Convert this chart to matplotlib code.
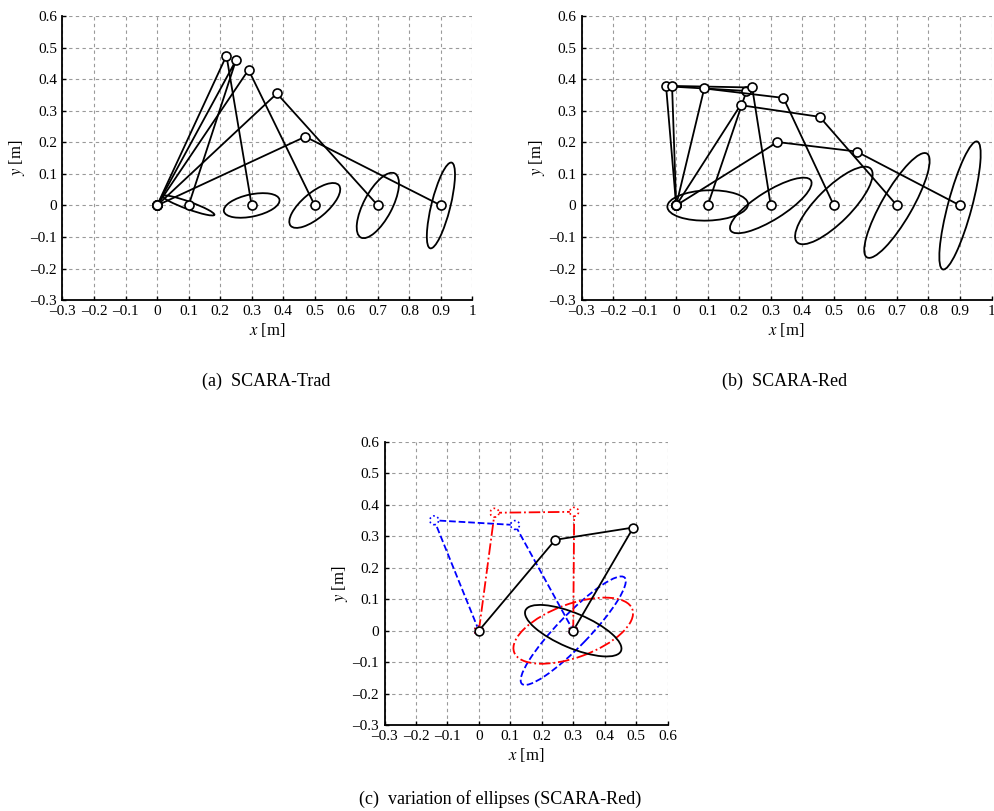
import numpy as np
import matplotlib
matplotlib.use('Agg')
import matplotlib.pyplot as plt
from matplotlib.patches import Ellipse

plt.rcParams['font.family'] = ['Liberation Serif', 'DejaVu Serif']
plt.rcParams['mathtext.fontset'] = 'stix'

# (a) SCARA-Trad: elbow and end-effector positions
trad_elbow_x = [0.25, 0.22, 0.29, 0.38, 0.47]
trad_elbow_y = [0.46, 0.475, 0.43, 0.355, 0.218]
trad_end_x = [0.1, 0.3, 0.5, 0.7, 0.9]
trad_end_y = [0.0, 0.0, 0.0, 0.0, 0.0]
# ellipse semi-axes (a, b) and angle in degrees
trad_ell_a = [0.087, 0.09, 0.10, 0.115, 0.14]
trad_ell_b = [0.012, 0.035, 0.04, 0.045, 0.03]
trad_ell_ang = [-20, 12, 40, 62, 76]

# (b) SCARA-Red: two intermediate joints per pose
red_j1_x = [-0.032, -0.013, 0.089, 0.204, 0.321]
red_j1_y = [0.378, 0.379, 0.371, 0.318, 0.201]
red_j2_x = [0.223, 0.241, 0.340, 0.455, 0.572]
red_j2_y = [0.363, 0.374, 0.341, 0.281, 0.171]
red_end_x = [0.1, 0.3, 0.5, 0.7, 0.9]
red_end_y = [0.0, 0.0, 0.0, 0.0, 0.0]
red_ell_a = [0.128, 0.15, 0.165, 0.19, 0.21]
red_ell_b = [0.048, 0.045, 0.055, 0.048, 0.038]
red_ell_ang = [2, 32, 45, 60, 75]

# (c) variation of ellipses: three poses reaching (0.3, 0)
var_j1_x = [0.243, 0.050, -0.142]
var_j1_y = [0.289, 0.375, 0.351]
var_j2_x = [0.491, 0.303, 0.115]
var_j2_y = [0.328, 0.378, 0.336]
var_end = (0.3, 0.0)
var_ell_a = [0.165, 0.20, 0.235]
var_ell_b = [0.055, 0.085, 0.05]
var_ell_ang = [-23, 20, 46]
var_colors = ['black', 'red', 'blue']
var_styles = ['-', '-.', '--']

ticks = np.round(np.arange(-0.3, 1.01, 0.1), 1)


def fmt(v):
    if abs(v) < 1e-9:
        return '0'
    if abs(v - 1) < 1e-9:
        return '1'
    return ('\u2013' if v < 0 else '') + f'{abs(v):.1f}'


def style_axes(ax, xmax):
    ax.set_xlim(-0.3, xmax)
    ax.set_ylim(-0.3, 0.6)
    ax.set_aspect('equal')
    xt = ticks[ticks <= xmax + 1e-9]
    yt = ticks[ticks <= 0.6 + 1e-9]
    ax.set_xticks(xt)
    ax.set_yticks(yt)
    ax.set_xticklabels([fmt(v) for v in xt], fontsize=11)
    ax.set_yticklabels([fmt(v) for v in yt], fontsize=11)
    ax.tick_params(direction='in', length=3, width=1, pad=4)
    ax.tick_params(axis='x', pad=3.5)
    ax.grid(True, ls=(0, (3, 3)), color='#9a9a9a', lw=0.8)
    ax.set_axisbelow(True)
    for s in ['top', 'right']:
        ax.spines[s].set_visible(False)
    for s in ['left', 'bottom']:
        ax.spines[s].set_linewidth(1.3)
    ax.set_xlabel('$x$ [m]', fontsize=12, labelpad=2)
    ax.set_ylabel('$y$ [m]', fontsize=12, labelpad=2)


def draw_ellipses(ax, cx, cy, a, b, ang, color='black', ls='-'):
    for x, y, aa, bb, an in zip(cx, cy, a, b, ang):
        ax.add_patch(Ellipse((x, y), 2 * aa, 2 * bb, angle=an, fill=False,
                             edgecolor=color, ls=ls, lw=1.3, zorder=3))


fig = plt.figure(figsize=(9.95, 8.11), dpi=100)
ax_a = fig.add_axes([0.0623, 0.630, 0.413, 0.350])
ax_b = fig.add_axes([0.584, 0.630, 0.413, 0.350])
ax_c = fig.add_axes([0.386, 0.106, 0.2854, 0.349])

mk = dict(marker='o', ms=6.5, mfc='white', mec='black', mew=1.2)

# (a)
style_axes(ax_a, 1.0)
draw_ellipses(ax_a, trad_end_x, trad_end_y, trad_ell_a, trad_ell_b, trad_ell_ang)
for ex, ey, px, py in zip(trad_elbow_x, trad_elbow_y, trad_end_x, trad_end_y):
    ax_a.plot([0, ex, px], [0, ey, py], color='black', lw=1.3, zorder=4, **mk)

# (b)
style_axes(ax_b, 1.0)
draw_ellipses(ax_b, red_end_x, red_end_y, red_ell_a, red_ell_b, red_ell_ang)
for i in range(len(red_end_x)):
    ax_b.plot([0, red_j1_x[i], red_j2_x[i], red_end_x[i]],
              [0, red_j1_y[i], red_j2_y[i], red_end_y[i]],
              color='black', lw=1.3, zorder=4, **mk)

# (c)
style_axes(ax_c, 0.6)
for i in [2, 1, 0]:
    c = var_colors[i]
    ls = var_styles[i]
    draw_ellipses(ax_c, [var_end[0]], [var_end[1]], [var_ell_a[i]], [var_ell_b[i]],
                  [var_ell_ang[i]], color=c, ls=ls)
    xs = [0, var_j1_x[i], var_j2_x[i], var_end[0]]
    ys = [0, var_j1_y[i], var_j2_y[i], var_end[1]]
    ax_c.plot(xs, ys, color=c, ls=ls, lw=1.3, zorder=4)
    ax_c.scatter(xs, ys, s=40, facecolors='white', edgecolors=c,
                 linewidths=1.2, linestyles=':' if i else '-', zorder=5)

fig.text(0.268, 0.530, '(a)  SCARA-Trad', ha='center', va='center', fontsize=13)
fig.text(0.789, 0.530, '(b)  SCARA-Red', ha='center', va='center', fontsize=13)
fig.text(0.503, 0.015, '(c)  variation of ellipses (SCARA-Red)', ha='center',
         va='center', fontsize=13)

fig.savefig('out.png', dpi=100)
